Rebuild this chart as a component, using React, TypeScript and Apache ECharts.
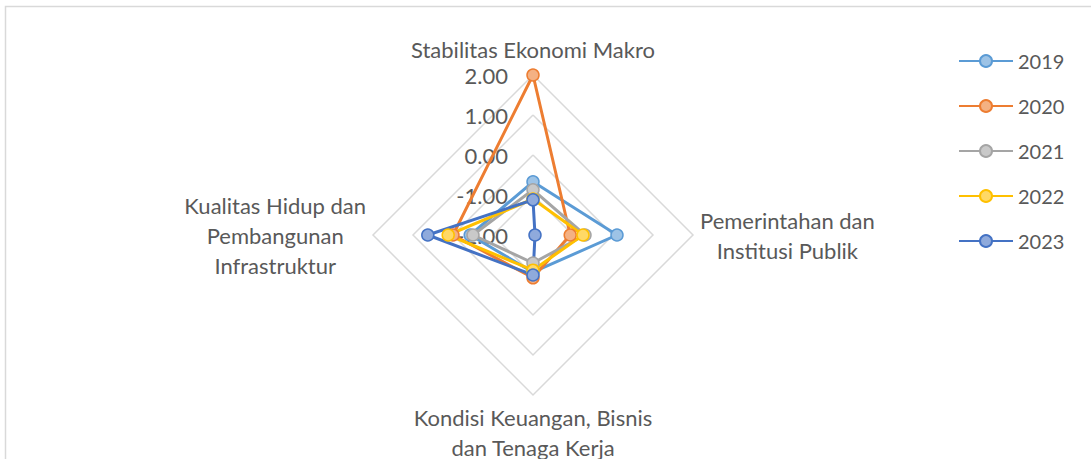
import React, { useEffect, useRef } from "react";
import * as echarts from "echarts";

// Indicator order as ECharts lays it out (counter-clockwise from the top): top, left, bottom, right
const indicatorNames = [
  "Stabilitas Ekonomi Makro",
  "Kualitas Hidup dan\nPembangunan\nInfrastruktur",
  "Kondisi Keuangan, Bisnis\ndan Tenaga Kerja",
  "Pemerintahan dan\nInstitusi Publik",
];
const years = ["2019", "2020", "2021", "2022", "2023"];
// values in the same order as indicatorNames
const v2019 = [-0.67, -0.43, -1.07, 0.1];
const v2020 = [2.0, 0.0, -0.93, -1.07];
const v2021 = [-0.87, -0.5, -1.3, -0.7];
const v2022 = [-1.1, 0.12, -1.12, -0.75];
const v2023 = [-1.12, 0.63, -1.0, -1.95];
const seriesValues = [v2019, v2020, v2021, v2022, v2023];
const lineColors = ["#5B9BD5", "#ED7D31", "#A5A5A5", "#FFC000", "#4472C4"];
const markerFills = ["#9DC3E6", "#F4B183", "#C9C9C9", "#FFD966", "#8FAADC"];
const axisMin = -2;
const axisMax = 2;

export default function App() {
  const ref = useRef<HTMLDivElement>(null);
  useEffect(() => {
    if (!ref.current) return;
    const chart = echarts.init(ref.current, null, { renderer: "svg" });
    const font = "Lato, 'Open Sans', sans-serif";
    chart.setOption({
      animation: false,
      textStyle: { fontFamily: font },
      graphic: [
        {
          type: "rect",
          shape: { x: 5.5, y: 6.5, width: 1200, height: 600 },
          style: { fill: "none", stroke: "#D9D9D9", lineWidth: 1.5 },
          silent: true,
        },
      ],
      grid: { left: 0, top: 0, width: 1, height: 1, show: false },
      xAxis: { type: "value", show: false },
      yAxis: { type: "value", show: false },
      legend: {
        orient: "vertical",
        left: 953,
        top: 46,
        itemWidth: 54,
        itemHeight: 15,
        itemGap: 25,
        data: years,
        textStyle: { color: "#595959", fontSize: 20, fontFamily: font },
      },
      radar: {
        center: [533, 235],
        radius: 160,
        shape: "polygon",
        splitNumber: 4,
        startAngle: 90,
        axisName: {
          color: "#595959",
          fontSize: 22,
          fontFamily: font,
          lineHeight: 30,
          formatter: (name: string) =>
            name
              .split("\n")
              .map((l) => `{c|${l}}`)
              .join("\n"),
          rich: {
            c: { align: "center", color: "#595959", fontSize: 22, fontFamily: font, lineHeight: 30 },
          },
        },
        nameGap: 7,
        axisLine: { show: false },
        axisTick: { show: false },
        splitArea: { show: false },
        splitLine: { lineStyle: { color: "#D9D9D9", width: 1.5 } },
        axisLabel: { show: false },
        indicator: indicatorNames.map((n, i) => ({
          name: n,
          min: axisMin,
          max: axisMax,
          axisLabel:
            i === 0
              ? {
                  show: true,
                  color: "#595959",
                  fontSize: 22,
                  fontFamily: font,
                  margin: 25,
                  formatter: (v: number) => v.toFixed(2),
                }
              : { show: false },
        })),
      },
      series: [
        {
          type: "radar",
          symbol: "circle",
          symbolSize: 12,
          data: years.map((y, i) => ({
            name: y,
            value: seriesValues[i],
            lineStyle: { color: lineColors[i], width: 3 },
            itemStyle: { color: markerFills[i], borderColor: lineColors[i], borderWidth: 1.5 },
          })),
        },
        // legend-only line series (empty) so the legend shows Excel-style line + marker icons
        ...years.map((y, i) => ({
          type: "line",
          name: y,
          data: [],
          symbol: "circle",
          lineStyle: { color: lineColors[i], width: 3 },
          itemStyle: { color: markerFills[i], borderColor: lineColors[i], borderWidth: 1.5 },
        })),
      ],
      color: lineColors,
    });
    return () => chart.dispose();
  }, []);
  return (
    <div
      ref={ref}
      style={{ position: "fixed", left: 0, top: 0, width: 1091, height: 459, background: "#fff" }}
    />
  );
}
